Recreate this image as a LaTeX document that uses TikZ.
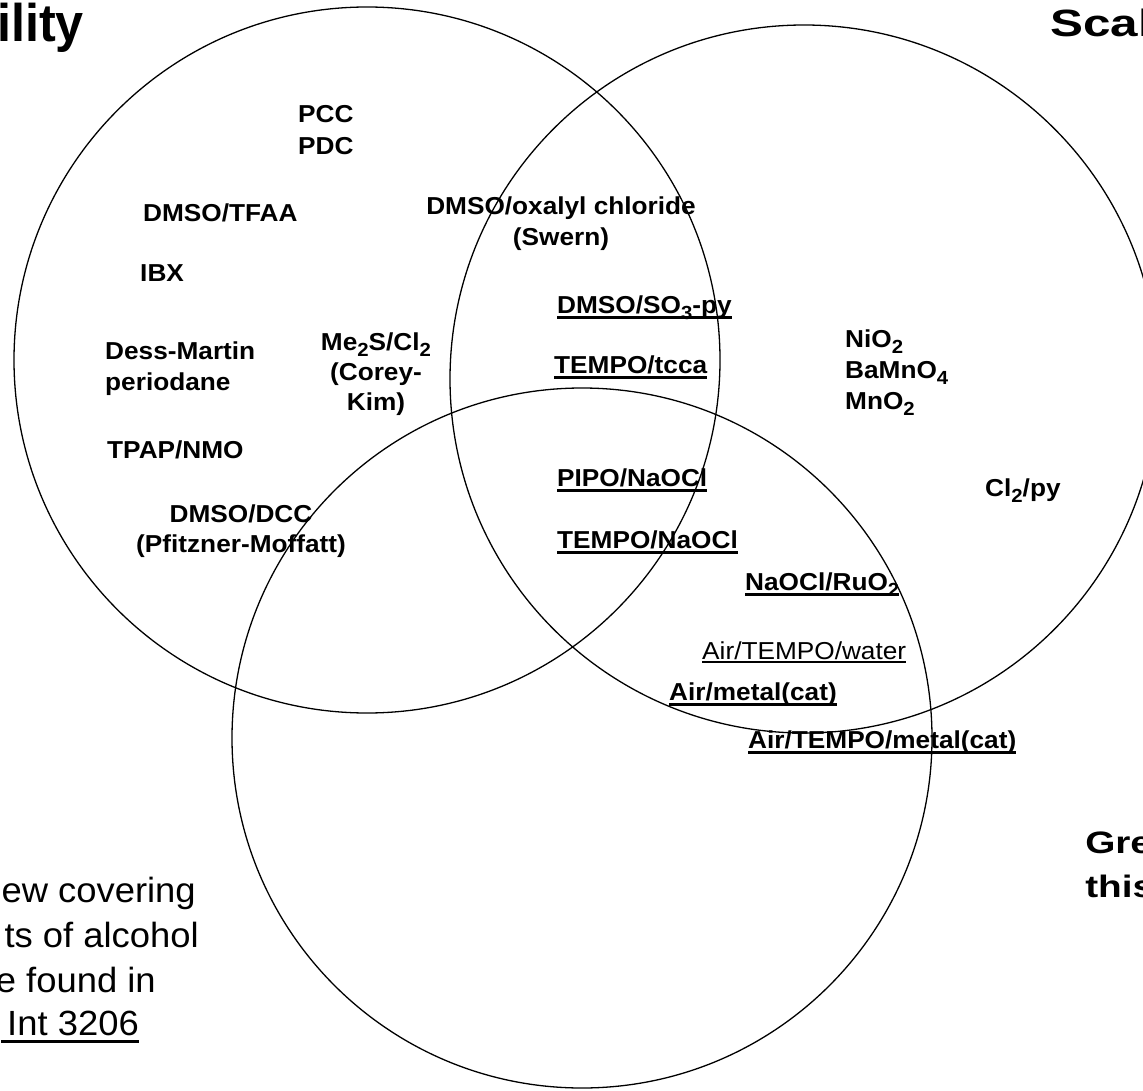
\documentclass[tikz,border=0pt]{standalone}
\usepackage{fontspec}
\setmainfont{Liberation Sans}
\newcommand{\chsub}[1]{\raisebox{-6pt}{\fontsize{19}{19}\selectfont #1}}
\newsavebox{\ulbox}
\newcommand{\ulgen}[3]{\sbox{\ulbox}{#3}\rlap{\rule[-#1]{\wd\ulbox}{#2}}\usebox{\ulbox}}
\newcommand{\ulbold}[1]{\ulgen{6.3pt}{3pt}{#1}}
\newcommand{\ulthin}[1]{\ulgen{3.8pt}{1.7pt}{#1}}
\newcommand{\ulref}[1]{\ulgen{8pt}{2.6pt}{#1}}
\begin{document}
\begin{tikzpicture}[x=1pt,y=-1pt,
  lab/.style={font=\fontsize{24.5}{30}\selectfont\bfseries, inner sep=0pt, xscale=1.07},
  labr/.style={font=\fontsize{24.5}{30}\selectfont, inner sep=0pt, xscale=1.07},
  note/.style={font=\fontsize{35}{44}\selectfont, inner sep=0pt, xscale=1.04},
  ring/.style={draw=black, line width=1.3pt}]
\path[fill=white, use as bounding box] (0,0) rectangle (1143,1091);

% circles
\draw[ring] (367,360) circle[radius=353pt];
\draw[ring] (804,379) circle[radius=354pt];
\draw[ring] (582,738) circle[radius=350pt];

% titles (cut by frame)
\node[font=\fontsize{53}{60}\selectfont\bfseries, inner sep=0pt, xscale=0.95, anchor=base east] (tleft) at (84,42) {ility};
\node[font=\fontsize{38}{44}\selectfont\bfseries, inner sep=0pt, xscale=1.3, anchor=base west] (tright) at (1050,37) {Scal};
\node[font=\fontsize{31}{44}\selectfont\bfseries, inner sep=0pt, xscale=1.25, anchor=base west] (gre) at (1085,853) {Gre};
\node[font=\fontsize{31}{44}\selectfont\bfseries, inner sep=0pt, xscale=1.25, anchor=base west] (this) at (1085,897) {this};

% left circle only
\node[lab, anchor=base west] (pcc) at (298,123) {PCC};
\node[lab, anchor=base west] (pdc) at (298,155) {PDC};
\node[lab, anchor=base west] (tfaa) at (143,222) {DMSO/TFAA};
\node[lab, anchor=base west] (ibx) at (140,282) {IBX};
\node[lab, anchor=base west] (dm1) at (105,359) {Dess-Martin};
\node[lab, anchor=base west] (dm2) at (105,390) {periodane};
\node[lab, anchor=base west] (tpap) at (107,458) {TPAP/NMO};
\node[lab, anchor=base] (dcc1) at (241,522) {DMSO/DCC};
\node[lab, anchor=base] (dcc2) at (241,552) {(Pfitzner-Moffatt)};
\node[lab, anchor=base] (ck1) at (376,350) {Me\chsub{2}S/Cl\chsub{2}};
\node[lab, anchor=base] (ck2) at (376,380) {(Corey-};
\node[lab, anchor=base] (ck3) at (376,410) {Kim)};

% left and right
\node[lab, anchor=base] (sw1) at (561,215) {DMSO/oxalyl chloride};
\node[lab, anchor=base] (sw2) at (561,246) {(Swern)};
\node[lab, anchor=base west] (so3) at (557,313) {\ulbold{DMSO/SO\chsub{3}-py}};
\node[lab, anchor=base west] (tcca) at (554,373) {\ulbold{TEMPO/tcca}};

% all three
\node[lab, anchor=base west] (pipo) at (557,486) {\ulbold{PIPO/NaOCl}};
\node[lab, anchor=base west] (tnaocl) at (557,548) {\ulbold{TEMPO/NaOCl}};

% right and bottom
\node[lab, anchor=base west] (ruo) at (745,590) {\ulbold{NaOCl/RuO\chsub{2}}};
\node[labr, anchor=base west] (water) at (702,659) {\ulthin{Air/TEMPO/water}};
\node[lab, anchor=base west] (metal) at (669,700) {\ulbold{Air/metal(cat)}};
\node[lab, anchor=base west] (tmetal) at (748,748) {\ulbold{Air/TEMPO/metal(cat)}};

% right only
\node[lab, anchor=base west] (nio) at (845,347) {NiO\chsub{2}};
\node[lab, anchor=base west] (ba) at (845,378) {BaMnO\chsub{4}};
\node[lab, anchor=base west] (mno) at (845,409) {MnO\chsub{2}};
\node[lab, anchor=base west] (cl) at (985,496) {Cl\chsub{2}/py};

% bottom-left note (cut by frame)
\node[note, anchor=base east] (n1) at (196,902) {ew covering};
\node[note, anchor=base east] (n2) at (199,947) {ts of alcohol};
\node[note, anchor=base east] (n3) at (156,992) {e found in};
\node[note, anchor=base east] (n4) at (139,1035) {\ulref{\hspace{6pt}Int 3206}};
\end{tikzpicture}
\end{document}
